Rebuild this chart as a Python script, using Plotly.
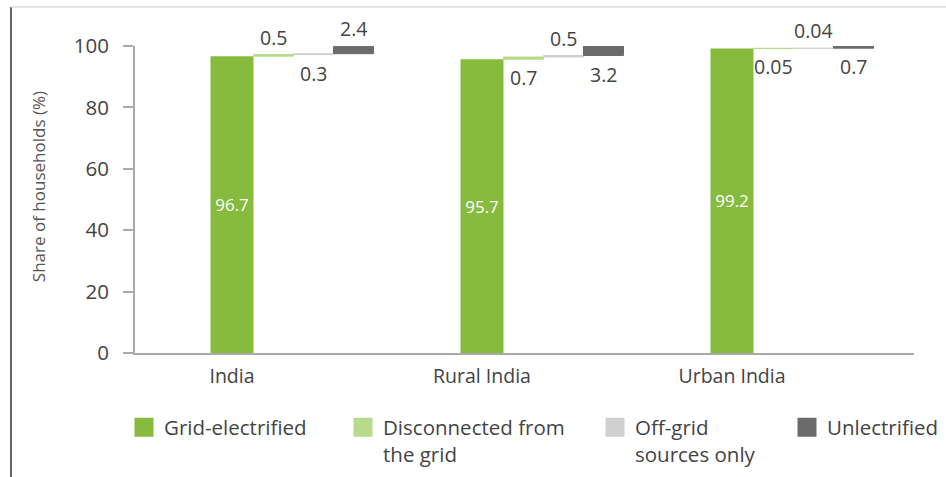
import plotly.graph_objects as go

categories = ["India", "Rural India", "Urban India"]
grid_electrified = [96.7, 95.7, 99.2]
disconnected = [0.5, 0.7, 0.05]
off_grid = [0.3, 0.5, 0.04]
unelectrified = [2.4, 3.2, 0.7]
y_ticks = [0, 20, 40, 60, 80, 100]

series_names = ["Grid-electrified", "Disconnected from<br>the grid", "Off-grid<br>sources only", "Unlectrified"]
colors = ["#86BB3D", "#B7DA8C", "#D0D0D0", "#6B6B6B"]
# label placement for small bars: per series per category
label_pos = {
    1: ["above", "below", "below"],
    2: ["below", "above", "above"],
    3: ["above", "below", "below"],
}

FONT = "Open Sans"
WG = 0.172
W = 0.16
widths = [WG, W, W, W]
offsets = [-WG / 2, WG / 2, WG / 2 + W, WG / 2 + 2 * W]

values = [grid_electrified, disconnected, off_grid, unelectrified]
bases = []
run = [0.0] * len(categories)
for vals in values:
    bases.append(list(run))
    run = [r + v for r, v in zip(run, vals)]

fig = go.Figure()
legend_ids = ["legend", "legend2", "legend3", "legend4"]
for k, (vals, name, col) in enumerate(zip(values, series_names, colors)):
    kw = {}
    if k == 0:
        kw = dict(text=[f"{v:g}" for v in vals], textposition="inside",
                  insidetextanchor="middle", textangle=0, constraintext="none",
                  textfont=dict(color="white", size=17, family=FONT))
    fig.add_trace(go.Bar(
        x=categories, y=vals, base=bases[k], name=name,
        width=widths[k], offset=offsets[k],
        marker=dict(color=col, line=dict(color=col, width=0 if k == 0 else 1)),
        showlegend=False, cliponaxis=False, hoverinfo="skip", **kw))
    # legend entry (square swatch)
    fig.add_trace(go.Scatter(
        x=[None], y=[None], mode="markers", name=name,
        marker=dict(symbol="square", size=16, color=col, line=dict(color=col, width=3)),
        legend=legend_ids[k], showlegend=True, hoverinfo="skip"))

annotations = []
for k in (1, 2, 3):
    for i, cat in enumerate(categories):
        pos = label_pos[k][i]
        xpos = i + offsets[k] + widths[k] / 2
        if pos == "above":
            annotations.append(dict(x=xpos, y=bases[k][i] + values[k][i], xref="x", yref="y",
                                    text=f"{values[k][i]:g}", showarrow=False,
                                    yanchor="bottom", yshift=2,
                                    font=dict(size=19.5, color="#444", family=FONT)))
        else:
            annotations.append(dict(x=xpos, y=bases[k][i], xref="x", yref="y",
                                    text=f"{values[k][i]:g}", showarrow=False,
                                    yanchor="top", yshift=-3,
                                    font=dict(size=19.5, color="#444", family=FONT)))

L, R, T, B = 135, 32, 46, 124.3
PW = 946 - L - R
PH = 477 - T - B

def px_x(p):
    return (p - L) / PW

def px_y(p):
    return (477 - B - p) / PH

annotations.append(dict(x=px_x(38), y=px_y(187), xref="paper", yref="paper",
                        text="Share of households (%)", textangle=-90, showarrow=False,
                        xanchor="center", yanchor="middle",
                        font=dict(size=17, color="#555", family=FONT)))

shapes = [
    dict(type="line", xref="paper", yref="paper", x0=px_x(11), x1=px_x(11),
         y0=px_y(7), y1=px_y(480), line=dict(color="#666", width=2)),
    dict(type="line", xref="paper", yref="paper", x0=px_x(11), x1=px_x(950),
         y0=px_y(7), y1=px_y(7), line=dict(color="#DADADA", width=1.5)),
]

leg_common = dict(orientation="v", yanchor="top", xanchor="left", valign="top",
                  font=dict(size=20.5, color="#444", family=FONT), bgcolor="rgba(0,0,0,0)")
leg_x = [124, 343, 595, 787]
leg_y = px_y(407)
layout_legends = {}
for lid, lx in zip(legend_ids, leg_x):
    layout_legends[lid] = dict(x=px_x(lx), y=leg_y, **leg_common)

fig.update_layout(
    width=946, height=477,
    margin=dict(l=L, r=R, t=T, b=B, autoexpand=False),
    paper_bgcolor="white", plot_bgcolor="white",
    barmode="overlay",
    showlegend=True,
    font=dict(family=FONT, color="#444", size=16),
    annotations=annotations,
    shapes=shapes,
    xaxis=dict(type="category", range=[-0.388, 2.728], showgrid=False,
               showline=True, linecolor="#AAAAAA", linewidth=2,
               ticks="", ticklabelstandoff=5,
               tickfont=dict(size=19.5, color="#444", family=FONT)),
    yaxis=dict(range=[0, 100], tickvals=y_ticks, showgrid=False, zeroline=False,
               showline=True, linecolor="#AAAAAA", linewidth=2,
               ticks="outside", ticklen=10, tickcolor="#AAAAAA", tickwidth=2,
               ticklabelstandoff=10,
               tickfont=dict(size=20.5, color="#444", family=FONT)),
    **layout_legends,
)

fig.write_html("out.html")
